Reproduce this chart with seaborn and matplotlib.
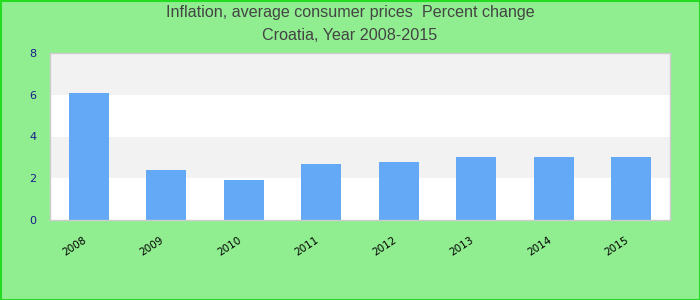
import matplotlib
matplotlib.use("Agg")
import matplotlib.pyplot as plt
import matplotlib.transforms as mtransforms
import seaborn as sns
import pandas as pd

years = ["2008", "2009", "2010", "2011", "2012", "2013", "2014", "2015"]
inflation = [6.1, 2.4, 1.9, 2.7, 2.8, 3.0, 3.0, 3.0]
title_lines = ["Inflation, average consumer prices  Percent change", "Croatia, Year 2008-2015"]
yticks = [0, 2, 4, 6, 8]

sns.set_theme(style="white")
plt.rcParams['font.family'] = ['Liberation Sans', 'DejaVu Sans']

df = pd.DataFrame({"year": years, "value": inflation})

fig = plt.figure(figsize=(7, 3), dpi=100, facecolor="#90ee90")
ax = fig.add_axes([50/700, 80/300, 620/700, 167/300])
ax.set_facecolor("white")

for lo in range(0, 8, 2):
    ax.axhspan(lo, lo + 2, color="white" if (lo // 2) % 2 == 0 else "#f2f2f2", zorder=0, lw=0)

sns.barplot(data=df, x="year", y="value", color="#63a9f5", saturation=1, width=0.52,
            linewidth=0, edgecolor="none", ax=ax, zorder=2)

ax.set_ylim(0, 8)
ax.set_xlim(-0.5, len(years) - 0.5)
ax.set_yticks(yticks)
ax.set_yticklabels([str(t) for t in yticks], color="#1a1a8c", fontsize=8, family="DejaVu Sans")
ax.tick_params(axis="y", length=0, pad=10)
ax.tick_params(axis="x", length=0, pad=11)
offset = mtransforms.ScaledTranslation(-6/100, 0, fig.dpi_scale_trans)
for lab in ax.get_xticklabels():
    lab.set_rotation(33)
    lab.set_fontsize(7.5)
    lab.set_color("black")
    lab.set_family("DejaVu Sans")
    lab.set_ha("right")
    lab.set_rotation_mode("anchor")
    lab.set_transform(lab.get_transform() + offset)
ax.set_xlabel("")
ax.set_ylabel("")
for s in ax.spines.values():
    s.set_color("#cccccc")
    s.set_linewidth(1)

fig.text(0.5, 1 - 13/300, title_lines[0], ha="center", va="center", fontsize=11.6, color="#444444")
fig.text(0.5, 1 - 36/300, title_lines[1], ha="center", va="center", fontsize=11.6, color="#444444")

border = plt.Rectangle((0.5/700, 0.5/300), 699/700, 299/300, transform=fig.transFigure,
                       fill=False, edgecolor="#22dd22", linewidth=1.5)
fig.patches.append(border)

fig.savefig("out.png", dpi=100, facecolor=fig.get_facecolor())
